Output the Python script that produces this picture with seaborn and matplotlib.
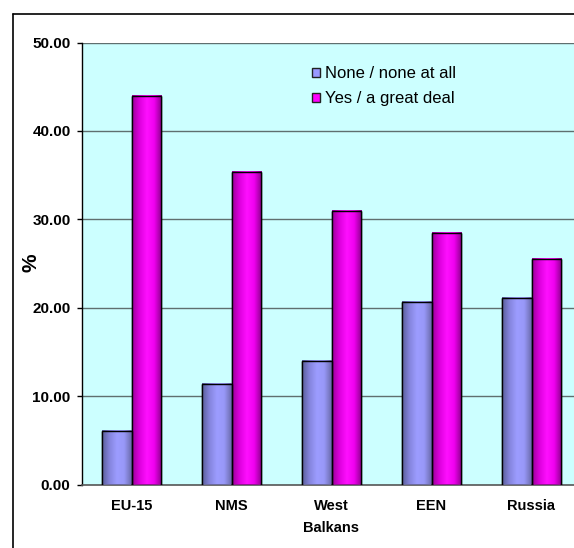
import matplotlib
matplotlib.use('Agg')
import matplotlib.pyplot as plt
import pandas as pd
import seaborn as sns
import numpy as np
from matplotlib.colors import LinearSegmentedColormap
from matplotlib.lines import Line2D
from matplotlib.patches import Rectangle

# Data
regions = ['EU-15', 'NMS', 'West\nBalkans', 'EEN', 'Russia']
none_at_all = [6.1, 11.4, 14.0, 20.6, 21.1]
great_deal = [44.0, 35.3, 30.9, 28.5, 25.5]
series_names = ['None / none at all', 'Yes / a great deal']
y_ticks = [0, 10, 20, 30, 40, 50]

W, H = 574, 548


def generate_plot():
    df = pd.DataFrame({
        'Region': regions * 2,
        'Value': none_at_all + great_deal,
        'Answer': [series_names[0]] * len(regions) + [series_names[1]] * len(regions),
    })

    sns.set_style('white')
    plt.rcParams['font.family'] = ['Liberation Sans', 'DejaVu Sans']
    plt.rcParams['text.color'] = 'black'
    plt.rcParams['xtick.color'] = 'black'
    plt.rcParams['ytick.color'] = 'black'

    fig = plt.figure(figsize=(W / 100, H / 100), dpi=100)
    # plot area runs off the right edge like in the original
    ax = fig.add_axes([81.5 / W, 1 - 484.5 / H, 500 / W, (484.5 - 42.5) / H])
    ax.set_facecolor('#CCFFFF')

    palette = {series_names[0]: '#9999FF', series_names[1]: '#FF00FF'}
    sns.barplot(data=df, x='Region', y='Value', hue='Answer', palette=palette,
                width=0.585, edgecolor='black', linewidth=1.0, ax=ax,
                legend=False, zorder=3)

    # fake the shaded 3D look of the old Excel bars
    cmaps = [
        LinearSegmentedColormap.from_list('b', ['#5a5f9a', '#8585dd', '#9c9cff', '#9898f8', '#6a6aaa']),
        LinearSegmentedColormap.from_list('m', ['#9a009a', '#dd00dd', '#ff10ff', '#f000f0', '#8c008c']),
    ]
    grad = np.linspace(0, 1, 64).reshape(1, -1)
    for cont, cm in zip(ax.containers, cmaps):
        for p in cont.patches:
            x0, w, h = p.get_x(), p.get_width(), p.get_height()
            ax.imshow(grad, extent=[x0, x0 + w, 0, h], aspect='auto', cmap=cm,
                      zorder=3.5, interpolation='bicubic')
            ax.add_patch(Rectangle((x0, 0), w, h, fill=False, edgecolor='black',
                                   linewidth=1.0, zorder=4))

    ax.set_xlim(-0.5, len(regions) - 0.5)
    ax.set_ylim(0, 50)
    ax.set_yticks(y_ticks)
    ax.set_yticklabels([f'{v:.2f}' for v in y_ticks], fontsize=11, fontweight='bold')
    ax.set_xticks(range(len(regions)))
    ax.set_xticklabels(regions, fontsize=10.5, fontweight='bold', linespacing=1.75)
    ax.set_xticks(np.arange(-0.5, len(regions), 1.0), minor=True)

    for v in y_ticks[1:]:
        ax.axhline(v, color='#5f6f6f', linewidth=1.0, zorder=1)

    ax.tick_params(axis='x', which='major', length=0, pad=10.5)
    ax.tick_params(axis='x', which='minor', length=3.6, width=1, color='#333333', direction='out')
    ax.tick_params(axis='y', length=3.4, width=1, direction='out', left=True, pad=4.5)

    for s in ['top', 'right']:
        ax.spines[s].set_visible(False)
    ax.spines['left'].set_color('black')
    ax.spines['bottom'].set_color('#555555')
    ax.spines['left'].set_linewidth(1.0)
    ax.spines['bottom'].set_linewidth(1.2)

    ax.set_xlabel('')
    ax.set_ylabel('')
    fig.text(31 / W, 1 - 263 / H, '%', rotation=90, ha='center', va='center',
             fontsize=15, fontweight='bold')

    handles = [Rectangle((0, 0), 1, 1, facecolor=palette[n], edgecolor='#222222', linewidth=1.0)
               for n in series_names]
    ax.legend(handles, series_names, loc='upper left',
              bbox_to_anchor=(312 / W, 1 - 66 / H), bbox_transform=fig.transFigure,
              frameon=False, fontsize=12, handlelength=0.45, handleheight=0.45,
              handletextpad=0.35, labelspacing=0.6, borderpad=0, borderaxespad=0)

    # chart frame from the source file (cut off right and bottom)
    fig.add_artist(Line2D([12.5 / W, 12.5 / W], [0, 1 - 14 / H], color='black', linewidth=1.2,
                          transform=fig.transFigure))
    fig.add_artist(Line2D([12.5 / W, 1], [1 - 14 / H, 1 - 14 / H], color='black', linewidth=1.2,
                          transform=fig.transFigure))

    fig.savefig('out.png', dpi=100)
    plt.close(fig)


if __name__ == '__main__':
    generate_plot()
